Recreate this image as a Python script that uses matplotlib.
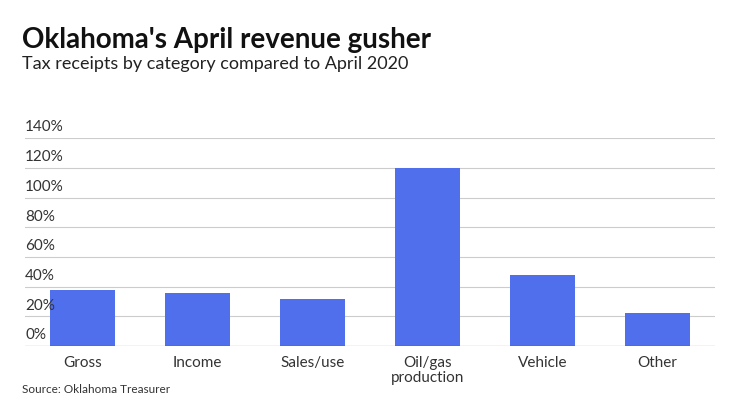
import matplotlib.pyplot as plt

categories = ['Gross', 'Income', 'Sales/use', 'Oil/gas\nproduction', 'Vehicle', 'Other']
values = [38, 36, 32, 120, 48, 22.5]
yticks = [0, 20, 40, 60, 80, 100, 120, 140]

plt.rcParams['font.family'] = ['Lato', 'DejaVu Sans']

fig = plt.figure(figsize=(7.4, 4.16), dpi=100)
ax = fig.add_axes([0.034, 0.168, 0.932, 0.5])

ax.bar(range(len(categories)), values, width=0.57, color='#4f6fec', zorder=3)
ax.set_xlim(-0.5, len(categories) - 0.5)
ax.set_ylim(0, 140)
ax.set_yticks(yticks)
ax.set_yticklabels([])
ax.tick_params(left=False, bottom=False)
for t in yticks:
    ax.axhline(t, color='#cccccc' if t else '#333333', lw=0.8, zorder=1 if t else 4)
    ax.text(-0.5, t + 2.5, f'{t}%', fontsize=11, color='#333333', ha='left', va='bottom')
ax.set_xticks(range(len(categories)))
ax.set_xticklabels(categories, fontsize=11, color='#333333', linespacing=1.1)
for s in ax.spines.values():
    s.set_visible(False)

fig.text(0.03, 0.885, "Oklahoma's April revenue gusher", fontsize=20, fontweight='bold', color='#111111')
fig.text(0.03, 0.835, 'Tax receipts by category compared to April 2020', fontsize=13, color='#222222')
fig.text(0.03, 0.055, 'Source: Oklahoma Treasurer', fontsize=8.5, color='#333333')

fig.savefig('out.png', dpi=100, facecolor='white')
